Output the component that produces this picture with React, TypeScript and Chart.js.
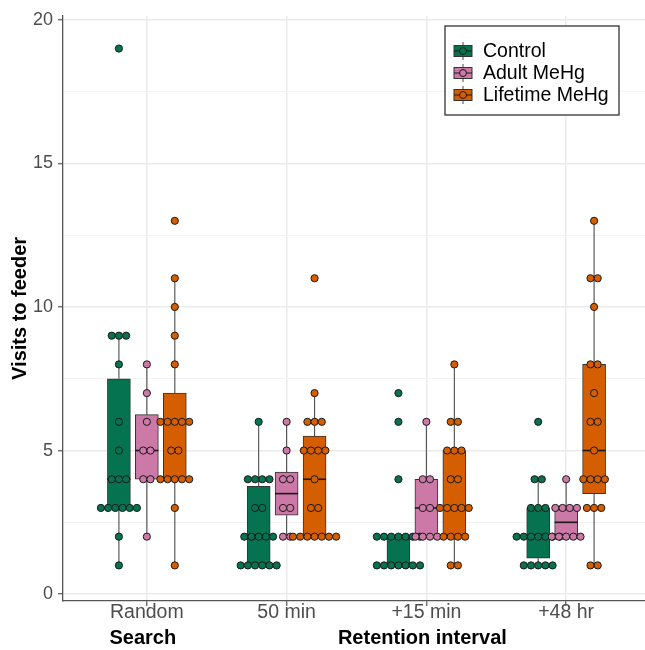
import React, { useEffect, useRef } from 'react';
import { Chart, registerables } from 'chart.js';

Chart.register(...registerables);

const CATEGORIES = ['Random', '50 min', '+15 min', '+48 hr'];
const GROUPS = ['Control', 'Adult MeHg', 'Lifetime MeHg'];
const COLORS = ['#067350', '#CC79A7', '#D55E00'];

// Visits to feeder per bird, one list per category (Random, 50 min, +15 min, +48 hr)
const CONTROL_VISITS = [
  [1, 2, 3, 3, 3, 3, 3, 3, 4, 4, 4, 5, 6, 8, 9, 9, 9, 19],
  [1, 1, 1, 1, 1, 1, 2, 2, 2, 2, 2, 3, 3, 4, 4, 4, 4, 6],
  [1, 1, 1, 1, 1, 1, 1, 2, 2, 2, 2, 2, 2, 2, 4, 6, 7],
  [1, 1, 1, 1, 1, 2, 2, 2, 2, 2, 2, 2, 3, 3, 3, 4, 4, 6],
];
const ADULT_VISITS = [
  [2, 4, 4, 5, 5, 6, 7, 8],
  [2, 2, 3, 3, 4, 4, 5, 6],
  [2, 2, 2, 2, 3, 3, 4, 4, 6],
  [2, 2, 2, 2, 2, 3, 3, 3, 3, 4],
];
const LIFETIME_VISITS = [
  [1, 3, 4, 4, 4, 4, 4, 5, 5, 6, 6, 6, 6, 6, 8, 9, 10, 11, 13],
  [2, 2, 2, 2, 2, 2, 2, 3, 3, 4, 5, 5, 5, 5, 6, 6, 6, 7, 11],
  [1, 1, 2, 2, 2, 2, 3, 3, 3, 3, 3, 4, 4, 5, 5, 5, 6, 6, 8],
  [1, 1, 3, 3, 3, 4, 4, 4, 4, 5, 6, 6, 7, 8, 8, 10, 11, 11, 13],
];
const GROUP_VISITS = [CONTROL_VISITS, ADULT_VISITS, LIFETIME_VISITS];

const Y_TICKS = [0, 2.5, 5, 7.5, 10, 12.5, 15, 17.5, 20];
const X_GROUP_LABELS = [
  { text: 'Search', at: 0 },
  { text: 'Retention interval', at: 2 },
];

const FONT = '"Liberation Sans", Arial, sans-serif';
const DODGE = 0.2;
const DOT_STEP = 0.0515;

function quantile(s: number[], p: number) {
  const h = (s.length - 1) * p;
  const lo = Math.floor(h);
  const hi = Math.min(lo + 1, s.length - 1);
  return s[lo] + (h - lo) * (s[hi] - s[lo]);
}

function boxStats(vals: number[]) {
  const s = [...vals].sort((a, b) => a - b);
  const q1 = quantile(s, 0.25);
  const med = quantile(s, 0.5);
  const q3 = quantile(s, 0.75);
  const iqr = q3 - q1;
  const lo = q1 - 1.5 * iqr;
  const hi = q3 + 1.5 * iqr;
  const inside = s.filter((v) => v >= lo && v <= hi);
  return { q1, med, q3, wLow: inside[0], wHigh: inside[inside.length - 1] };
}

const STATS = GROUP_VISITS.map((g) => g.map((vals) => boxStats(vals)));

function dotPoints(g: number) {
  const pts: { x: number; y: number }[] = [];
  GROUP_VISITS[g].forEach((vals, c) => {
    const counts = new Map<number, number>();
    vals.forEach((v) => counts.set(v, (counts.get(v) || 0) + 1));
    counts.forEach((k, v) => {
      for (let i = 0; i < k; i++) {
        pts.push({ x: c + (g - 1) * DODGE + (i - (k - 1) / 2) * DOT_STEP, y: v });
      }
    });
  });
  return pts;
}

const boxPlugin = {
  id: 'boxParts',
  afterDatasetDraw(chart: any, args: any) {
    const ds = chart.data.datasets[args.index];
    if (ds.type !== 'bar') return;
    const g = ds.groupIndex;
    const ctx = chart.ctx;
    const y = chart.scales.y;
    ctx.save();
    args.meta.data.forEach((bar: any, c: number) => {
      const st = STATS[g][c];
      const cx = bar.x;
      const half = bar.width / 2;
      ctx.strokeStyle = '#4D4D4D';
      ctx.lineWidth = 1.1;
      ctx.beginPath();
      ctx.moveTo(cx, y.getPixelForValue(st.wHigh));
      ctx.lineTo(cx, y.getPixelForValue(st.q3));
      ctx.moveTo(cx, y.getPixelForValue(st.q1));
      ctx.lineTo(cx, y.getPixelForValue(st.wLow));
      ctx.stroke();
      ctx.strokeStyle = '#1a1a1a';
      ctx.lineWidth = 1.6;
      ctx.beginPath();
      const my = y.getPixelForValue(st.med);
      ctx.moveTo(cx - half, my);
      ctx.lineTo(cx + half, my);
      ctx.stroke();
    });
    ctx.restore();
  },
};

const annotatePlugin = {
  id: 'annotate',
  afterDraw(chart: any) {
    const ctx = chart.ctx;
    const x = chart.scales.x;
    ctx.save();
    ctx.fillStyle = '#000';
    ctx.font = `bold 20px ${FONT}`;
    ctx.textAlign = 'center';
    ctx.textBaseline = 'middle';
    X_GROUP_LABELS.forEach((l) => {
      ctx.fillText(l.text, x.getPixelForValue(l.at) - 4, 638);
    });
    const lx = 445, ly = 26, lw = 174, lh = 89;
    ctx.fillStyle = '#fff';
    ctx.fillRect(lx, ly, lw, lh);
    ctx.strokeStyle = '#333';
    ctx.lineWidth = 1.3;
    ctx.strokeRect(lx, ly, lw, lh);
    GROUPS.forEach((name, i) => {
      const cy = 51 + i * 22;
      const kx = 454, kw = 18, kh = 11;
      const cx = kx + kw / 2;
      ctx.strokeStyle = '#4D4D4D';
      ctx.lineWidth = 1;
      ctx.beginPath();
      ctx.moveTo(cx, cy - 9);
      ctx.lineTo(cx, cy + 9);
      ctx.stroke();
      ctx.fillStyle = COLORS[i];
      ctx.fillRect(kx, cy - kh / 2, kw, kh);
      ctx.strokeStyle = '#333';
      ctx.strokeRect(kx, cy - kh / 2, kw, kh);
      ctx.strokeStyle = '#1a1a1a';
      ctx.beginPath();
      ctx.moveTo(kx, cy);
      ctx.lineTo(kx + kw, cy);
      ctx.stroke();
      ctx.beginPath();
      ctx.arc(cx, cy, 3.5, 0, Math.PI * 2);
      ctx.fillStyle = COLORS[i];
      ctx.fill();
      ctx.stroke();
      ctx.fillStyle = '#000';
      ctx.font = `19.5px ${FONT}`;
      ctx.textAlign = 'left';
      ctx.textBaseline = 'middle';
      ctx.fillText(name, 483, cy + 1);
    });
    ctx.restore();
  },
};

export default function App() {
  const ref = useRef<HTMLCanvasElement>(null);
  useEffect(() => {
    if (!ref.current) return;
    const barSets = GROUPS.map((name, g) => ({
      type: 'bar' as const,
      label: name,
      groupIndex: g,
      data: CATEGORIES.map((_, c) => ({
        x: c + (g - 1) * DODGE,
        y: [STATS[g][c].q1, STATS[g][c].q3],
      })),
      backgroundColor: COLORS[g],
      borderColor: '#333333',
      borderWidth: 1,
      borderSkipped: false,
      grouped: false,
      barPercentage: 1,
      categoryPercentage: 1,
      maxBarThickness: 23,
      order: 10 + g,
    }));
    const dotSets = GROUPS.map((name, g) => ({
      type: 'scatter' as const,
      label: name + ' dots',
      data: dotPoints(g),
      pointRadius: 3.6,
      pointBackgroundColor: COLORS[g],
      pointBorderColor: '#1a1a1a',
      pointBorderWidth: 1,
      showLine: false,
      order: 2 - g,
    }));
    const chart = new Chart(ref.current, {
      type: 'scatter',
      data: { datasets: [...barSets, ...dotSets] as any },
      plugins: [boxPlugin, annotatePlugin],
      options: {
        animation: false,
        responsive: false,
        events: [],
        devicePixelRatio: 1,
        layout: { padding: { top: 11, right: 10, left: 0, bottom: 0 } },
        plugins: { legend: { display: false }, tooltip: { enabled: false } },
        scales: {
          x: {
            type: 'linear',
            offset: false,
            min: -0.6,
            max: 3.6,
            afterFit: (s: any) => { s.height = 49; },
            afterBuildTicks: (s: any) => { s.ticks = CATEGORIES.map((_, i) => ({ value: i })); },
            ticks: {
              autoSkip: false,
              maxRotation: 0,
              padding: -5,
              color: '#4D4D4D',
              font: { family: FONT, size: 19.5 },
              callback: (v: any) => CATEGORIES[v] ?? '',
            },
            grid: {
              offset: false,
              color: '#EBEBEB',
              lineWidth: 1.5,
              tickLength: 5,
              tickColor: '#555',
              tickWidth: 1.2,
            },
            border: { color: '#555', width: 1.3 },
          },
          y: {
            type: 'linear',
            min: -0.24,
            max: 20.14,
            afterFit: (s: any) => { s.width = 63; },
            afterBuildTicks: (s: any) => { s.ticks = Y_TICKS.map((v) => ({ value: v })); },
            ticks: {
              autoSkip: false,
              padding: 5,
              color: '#4D4D4D',
              font: { family: FONT, size: 18 },
              callback: (v: any) => (v % 5 === 0 ? String(v) : ''),
            },
            grid: {
              color: (c: any) => (c.tick && c.tick.value % 5 === 0 ? '#EBEBEB' : '#F2F2F2'),
              lineWidth: (c: any) => (c.tick && c.tick.value % 5 === 0 ? 1.5 : 0.9),
              tickLength: 5,
              tickColor: (c: any) => (c.tick && c.tick.value % 5 === 0 ? '#555' : 'rgba(0,0,0,0)'),
              tickWidth: 1.2,
            },
            border: { color: '#555', width: 1.3 },
            title: {
              display: true,
              text: 'Visits to feeder',
              color: '#000',
              font: { family: FONT, size: 20, weight: 'bold' },
              padding: { top: 8, bottom: 0 },
            },
          },
        },
      } as any,
    });
    return () => chart.destroy();
  }, []);
  return (
    <div style={{ position: 'fixed', left: 0, top: 0, width: 645, height: 650, overflow: 'hidden', background: '#fff' }}>
      <canvas ref={ref} width={660} height={650} style={{ display: 'block' }} />
    </div>
  );
}
